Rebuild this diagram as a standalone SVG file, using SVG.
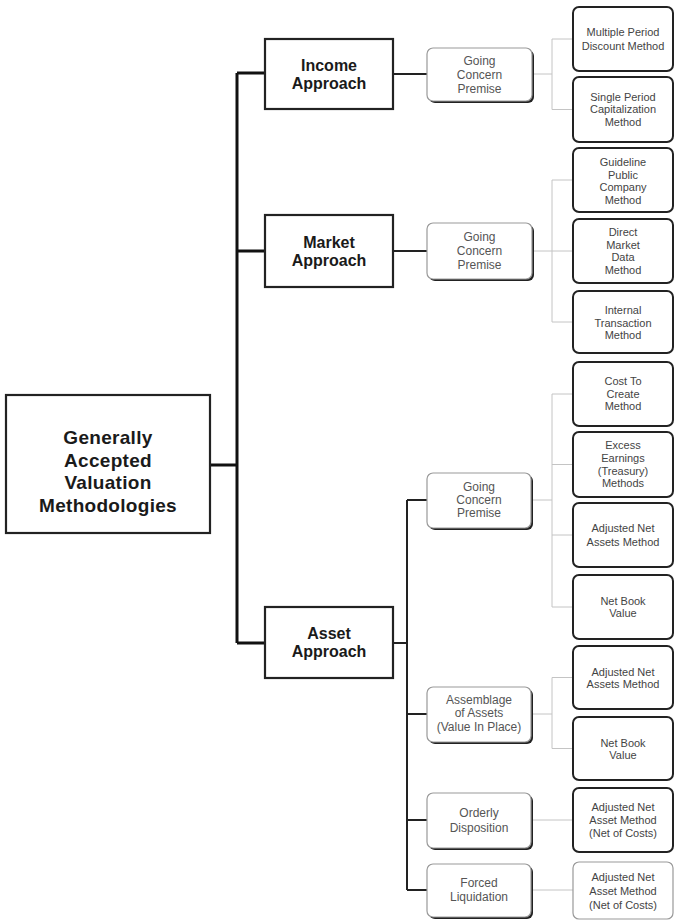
<svg xmlns="http://www.w3.org/2000/svg" width="675" height="922" viewBox="0 0 675 922">
<style>
text{font-family:"Liberation Sans",Arial,sans-serif;text-anchor:middle}
.root{font-size:19px;font-weight:bold;fill:#1a1a1a;letter-spacing:0.3px}
.appr{font-size:16px;font-weight:bold;fill:#1a1a1a}
.mid{font-size:12px;fill:#555}
.meth{font-size:11px;fill:#444}
.box{fill:#fff;stroke:#222;stroke-width:2.2}
.mbox{fill:#fff;stroke:#222;stroke-width:2}
.lbox{fill:#fff;stroke:#999;stroke-width:1.2}
.shadow{fill:#222}
.main{stroke:#111;stroke-width:3;fill:none}
.sub{stroke:#222;stroke-width:2;fill:none}
.br{stroke:#c4c4c4;stroke-width:1;fill:none}
</style>
<g id="connectors">
<path class="main" d="M210 465H237M237 73V643M237 73H265M237 251H265M237 643H265"/>
<path class="sub" d="M393 74H427M393 251H427M393 643H407M407 500V890M407 500H427M407 714H427M407 820H427M407 890H427"/>
<path class="br" d="M532 74H552M552 39V109.5M552 39H573M552 109.5H573"/>
<path class="br" d="M532 251H552M552 180V322M552 180H573M552 251H573M552 322H573"/>
<path class="br" d="M531 500H552M552 394V607M552 394H573M552 464.5H573M552 535H573M552 607H573"/>
<path class="br" d="M531 714H552M552 677.5V748.5M552 677.5H573M552 748.5H573"/>
<path class="br" d="M531 820H573M531 890H573"/>
</g>
<g id="root">
<rect class="box" x="6" y="395" width="204" height="138"/>
<text class="root" x="108" y="444">Generally</text>
<text class="root" x="108" y="466.5">Accepted</text>
<text class="root" x="108" y="489">Valuation</text>
<text class="root" x="108" y="511.5">Methodologies</text>
</g>
<g id="income">
<rect class="box" x="265" y="39" width="128" height="70"/>
<text class="appr" x="329" y="71">Income</text>
<text class="appr" x="329" y="89">Approach</text>
</g>
<g id="market">
<rect class="box" x="265" y="215" width="128" height="72"/>
<text class="appr" x="329" y="248">Market</text>
<text class="appr" x="329" y="266">Approach</text>
</g>
<g id="asset">
<rect class="box" x="265" y="607" width="128" height="71"/>
<text class="appr" x="329" y="639">Asset</text>
<text class="appr" x="329" y="657">Approach</text>
</g>
<g id="income-gcp">
<rect class="shadow" x="429" y="50" width="105" height="53" rx="6"/>
<rect class="lbox" x="427" y="48" width="105" height="53" rx="6"/>
<text class="mid" x="479.5" y="64.5">Going</text>
<text class="mid" x="479.5" y="78.5">Concern</text>
<text class="mid" x="479.5" y="92.5">Premise</text>
</g>
<g id="market-gcp">
<rect class="shadow" x="429" y="225" width="105" height="56" rx="6"/>
<rect class="lbox" x="427" y="223" width="105" height="56" rx="6"/>
<text class="mid" x="479.5" y="241">Going</text>
<text class="mid" x="479.5" y="255">Concern</text>
<text class="mid" x="479.5" y="269">Premise</text>
</g>
<g id="asset-gcp">
<rect class="shadow" x="429" y="475" width="104" height="55" rx="6"/>
<rect class="lbox" x="427" y="473" width="104" height="55" rx="6"/>
<text class="mid" x="479" y="491">Going</text>
<text class="mid" x="479" y="504">Concern</text>
<text class="mid" x="479" y="517">Premise</text>
</g>
<g id="assemblage">
<rect class="shadow" x="429" y="689" width="104" height="55" rx="6"/>
<rect class="lbox" x="427" y="687" width="104" height="55" rx="6"/>
<text class="mid" x="479" y="704">Assemblage</text>
<text class="mid" x="479" y="717">of Assets</text>
<text class="mid" x="479" y="731">(Value In Place)</text>
</g>
<g id="orderly">
<rect class="shadow" x="429" y="795" width="104" height="55" rx="6"/>
<rect class="lbox" x="427" y="793" width="104" height="55" rx="6"/>
<text class="mid" x="479" y="817">Orderly</text>
<text class="mid" x="479" y="832">Disposition</text>
</g>
<g id="forced">
<rect class="shadow" x="429" y="866" width="104" height="53" rx="6"/>
<rect class="lbox" x="427" y="864" width="104" height="53" rx="6"/>
<text class="mid" x="479" y="886.5">Forced</text>
<text class="mid" x="479" y="901">Liquidation</text>
</g>
<g id="m-multiple">
<rect class="mbox" x="573" y="7" width="100" height="64" rx="6"/>
<text class="meth" x="623" y="36">Multiple Period</text>
<text class="meth" x="623" y="49.5">Discount Method</text>
</g>
<g id="m-single">
<rect class="mbox" x="573" y="77" width="100" height="65" rx="6"/>
<text class="meth" x="623" y="101">Single Period</text>
<text class="meth" x="623" y="113">Capitalization</text>
<text class="meth" x="623" y="126">Method</text>
</g>
<g id="m-guideline">
<rect class="mbox" x="573" y="148" width="100" height="64" rx="6"/>
<text class="meth" x="623" y="166">Guideline</text>
<text class="meth" x="623" y="178.5">Public</text>
<text class="meth" x="623" y="191">Company</text>
<text class="meth" x="623" y="203.5">Method</text>
</g>
<g id="m-direct">
<rect class="mbox" x="573" y="219" width="100" height="64" rx="6"/>
<text class="meth" x="623" y="236">Direct</text>
<text class="meth" x="623" y="249">Market</text>
<text class="meth" x="623" y="261">Data</text>
<text class="meth" x="623" y="274">Method</text>
</g>
<g id="m-internal">
<rect class="mbox" x="573" y="291" width="100" height="62" rx="6"/>
<text class="meth" x="623" y="314">Internal</text>
<text class="meth" x="623" y="327">Transaction</text>
<text class="meth" x="623" y="339">Method</text>
</g>
<g id="m-cost">
<rect class="mbox" x="573" y="362" width="100" height="64" rx="6"/>
<text class="meth" x="623" y="385">Cost To</text>
<text class="meth" x="623" y="397.5">Create</text>
<text class="meth" x="623" y="410">Method</text>
</g>
<g id="m-excess">
<rect class="mbox" x="573" y="432" width="100" height="65" rx="6"/>
<text class="meth" x="623" y="449">Excess</text>
<text class="meth" x="623" y="462">Earnings</text>
<text class="meth" x="623" y="475">(Treasury)</text>
<text class="meth" x="623" y="487">Methods</text>
</g>
<g id="m-adjusted1">
<rect class="mbox" x="573" y="503" width="100" height="64" rx="6"/>
<text class="meth" x="623" y="532">Adjusted Net</text>
<text class="meth" x="623" y="546">Assets Method</text>
</g>
<g id="m-netbook1">
<rect class="mbox" x="573" y="575" width="100" height="64" rx="6"/>
<text class="meth" x="623" y="605">Net Book</text>
<text class="meth" x="623" y="617">Value</text>
</g>
<g id="m-adjusted2">
<rect class="mbox" x="573" y="646" width="100" height="63" rx="6"/>
<text class="meth" x="623" y="676">Adjusted Net</text>
<text class="meth" x="623" y="688">Assets Method</text>
</g>
<g id="m-netbook2">
<rect class="mbox" x="573" y="717" width="100" height="63" rx="6"/>
<text class="meth" x="623" y="747">Net Book</text>
<text class="meth" x="623" y="759">Value</text>
</g>
<g id="m-orderly">
<rect class="mbox" x="573" y="788" width="100" height="64" rx="6"/>
<text class="meth" x="623" y="811">Adjusted Net</text>
<text class="meth" x="623" y="824">Asset Method</text>
<text class="meth" x="623" y="837">(Net of Costs)</text>
</g>
<g id="m-forced">
<rect class="lbox" x="573" y="862" width="100" height="57" rx="6"/>
<text class="meth" x="623" y="881">Adjusted Net</text>
<text class="meth" x="623" y="895">Asset Method</text>
<text class="meth" x="623" y="909">(Net of Costs)</text>
</g>
</svg>
